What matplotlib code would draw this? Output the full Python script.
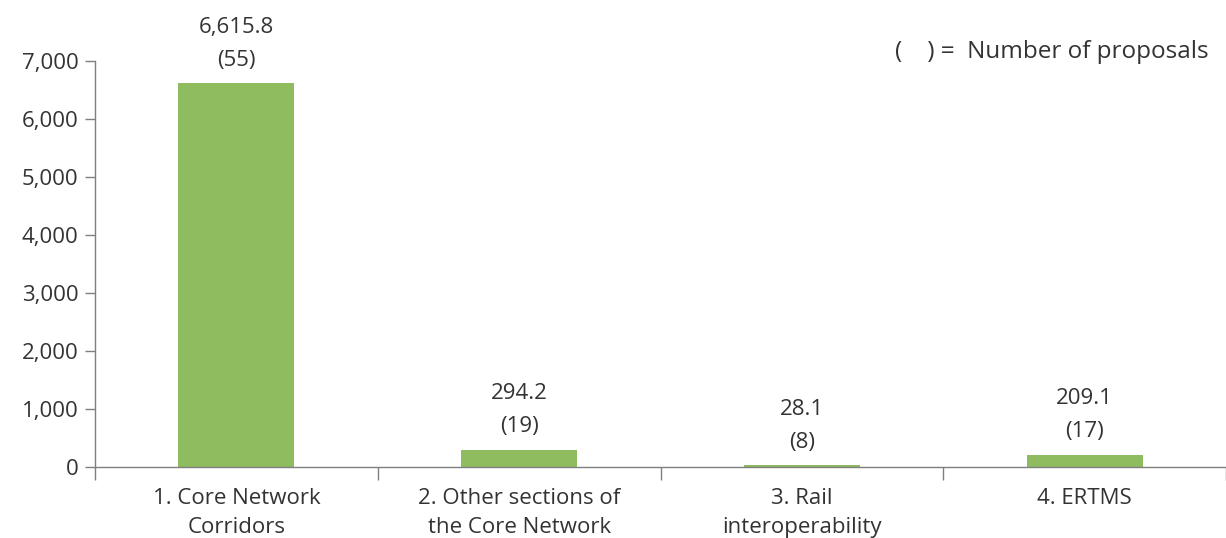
import matplotlib
matplotlib.use("Agg")
import matplotlib.pyplot as plt

categories = ["1. Core Network\nCorridors", "2. Other sections of\nthe Core Network",
              "3. Rail\ninteroperability", "4. ERTMS"]
values = [6615.8, 294.2, 28.1, 209.1]
value_labels = ["6,615.8", "294.2", "28.1", "209.1"]
proposals = [55, 19, 8, 17]
yticks = [0, 1000, 2000, 3000, 4000, 5000, 6000, 7000]

plt.rcParams["font.family"] = ["Open Sans", "DejaVu Sans"]
text_color = "#333333"
axis_color = "#7f7f7f"
bar_color = "#8fbc5f"
fs = 16

fig = plt.figure(figsize=(12.26, 5.38), dpi=100)
ax = fig.add_axes([0.0775, 0.132, 0.9225, 0.755])

x = list(range(len(categories)))
ax.bar(x, values, width=0.41, color=bar_color, zorder=2)

ax.set_xlim(-0.5, len(categories) - 0.5)
ax.set_ylim(0, 7000)
ax.set_yticks(yticks)
ax.set_yticklabels([f"{v:,}" for v in yticks], fontsize=fs, color=text_color)

# category ticks sit on the boundaries between groups; labels centred on bars
ax.set_xticks([i - 0.5 for i in range(len(categories) + 1)])
ax.set_xticklabels([])
ax.set_xticks(x, minor=True)
ax.set_xticklabels(categories, minor=True, fontsize=fs, color=text_color,
                   linespacing=1.5)
ax.tick_params(axis="x", which="minor", length=0, pad=15)
ax.tick_params(axis="x", which="major", length=9, width=1, color=axis_color)
ax.tick_params(axis="y", length=7, width=1, color=axis_color, pad=5)

for side in ("top", "right"):
    ax.spines[side].set_visible(False)
for side in ("left", "bottom"):
    ax.spines[side].set_color(axis_color)
    ax.spines[side].set_linewidth(1)

for xi, v, lab, n in zip(x, values, value_labels, proposals):
    ax.annotate(f"{lab}\n({n})", (xi, v), xytext=(0, 9), textcoords="offset points",
                ha="center", va="bottom", fontsize=fs, color=text_color,
                linespacing=1.75)

ax.text(3.44, 7150, "(    ) =  Number of proposals", ha="right", va="center",
        fontsize=17.5, color=text_color)

fig.savefig("out.png", dpi=100)
